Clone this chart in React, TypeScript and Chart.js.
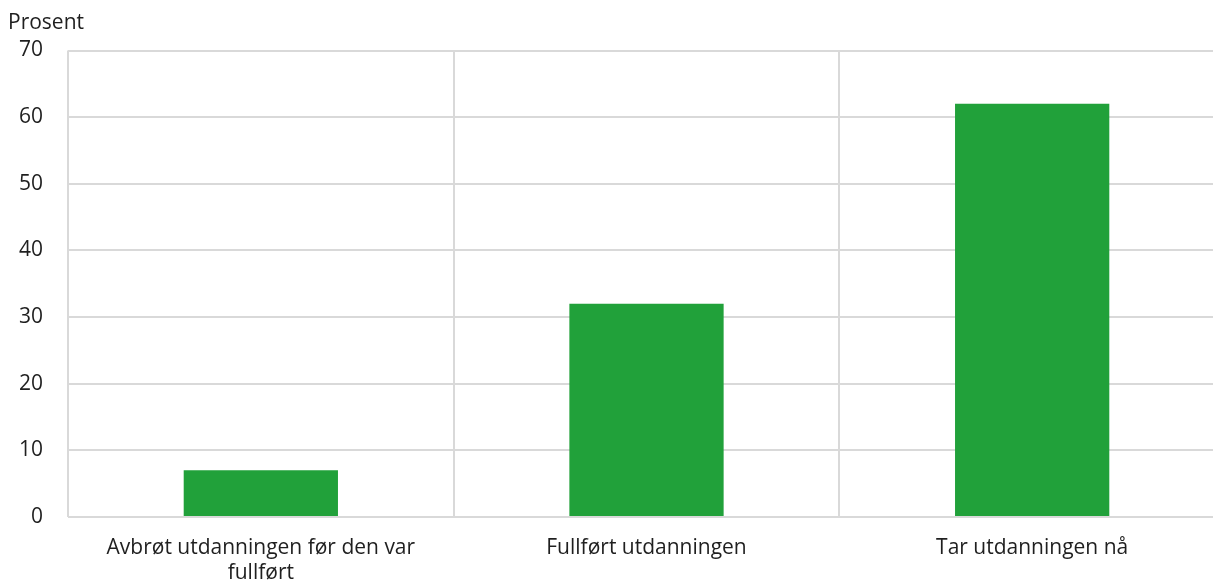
import React, { useEffect, useRef } from "react";
import { Chart, registerables } from "chart.js";

Chart.register(...registerables);

const categories: (string | string[])[] = [
  ["Avbrøt utdanningen før den var", "fullført"],
  "Fullført utdanningen",
  "Tar utdanningen nå",
];
const values: number[] = [7, 32, 62];
const yTicks: number[] = [0, 10, 20, 30, 40, 50, 60, 70];
const yTitle = "Prosent";

const FONT = "'Open Sans', 'Noto Sans', sans-serif";
const TEXT = "#1f1f1f";
const GRID = "#d9d9d9";
const BAR = "#21a13a";

export default function App() {
  const ref = useRef<HTMLCanvasElement | null>(null);

  useEffect(() => {
    document.documentElement.style.overflow = "hidden";
    document.body.style.margin = "0";
    const canvas = ref.current;
    if (!canvas) return;
    const chart = new Chart(canvas, {
      type: "bar",
      data: {
        labels: categories,
        datasets: [
          {
            data: values,
            backgroundColor: BAR,
            borderWidth: 0,
            barPercentage: 0.4,
            categoryPercentage: 1,
          },
        ],
      },
      options: {
        responsive: false,
        animation: false,
        devicePixelRatio: 1,
        layout: { padding: { left: 0, right: 0, top: 0, bottom: 0 } },
        plugins: {
          legend: { display: false },
          tooltip: { enabled: false },
          title: {
            display: true,
            text: yTitle,
            align: "start",
            color: TEXT,
            font: { family: FONT, size: 21, weight: "normal", lineHeight: 1.2 },
            padding: { top: 2, bottom: 15.3 },
          },
        },
        scales: {
          x: {
            offset: true,
            grid: {
              display: true,
              offset: true,
              color: GRID,
              lineWidth: 2,
              drawTicks: false,
            },
            border: { display: false },
            ticks: {
              color: TEXT,
              font: { family: FONT, size: 21, lineHeight: 1.2 },
              padding: 18,
              maxRotation: 0,
              minRotation: 0,
              autoSkip: false,
            },
            afterFit: (scale: any) => {
              scale.height = 67;
            },
          },
          y: {
            min: 0,
            max: 70,
            afterBuildTicks: (scale: any) => {
              scale.ticks = yTicks.map((v) => ({ value: v }));
            },
            grid: {
              color: GRID,
              lineWidth: 2,
              drawTicks: false,
            },
            border: { display: false },
            ticks: {
              color: TEXT,
              font: { family: FONT, size: 21 },
              padding: 25,
            },
            afterFit: (scale: any) => {
              scale.width = 60;
            },
          },
        },
      },
    });
    return () => chart.destroy();
  }, []);

  return (
    <div
      style={{
        width: 1213,
        height: 584,
        paddingLeft: 8,
        paddingTop: 8,
        boxSizing: "border-box",
        overflow: "hidden",
        position: "relative",
      }}
    >
      <canvas ref={ref} width={1217} height={576} style={{ display: "block", width: 1217, height: 576 }} />
    </div>
  );
}
